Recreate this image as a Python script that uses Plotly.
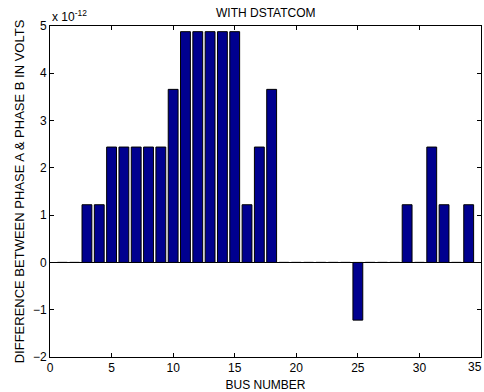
import plotly.graph_objects as go

bus = list(range(1, 35))
diff = [0, 0, 1.22, 1.22, 2.44, 2.44, 2.44, 2.44, 2.44, 3.66,
        4.88, 4.88, 4.88, 4.88, 4.88, 1.22, 2.44, 3.66, 0, 0,
        0, 0, 0, 0, -1.22, 0, 0, 0, 1.22, 0,
        2.44, 1.22, 0, 1.22]
xticks = [0, 5, 10, 15, 20, 25, 30, 35]
yticks = [-2, -1, 0, 1, 2, 3, 4, 5]

font = "Liberation Sans, Arial, sans-serif"

fig = go.Figure(go.Bar(
    x=bus, y=diff,
    marker=dict(color="#00008F", line=dict(color="black", width=1)),
    width=0.8,
))

fig.update_layout(
    width=484, height=392,
    margin=dict(l=50, r=3, t=26, b=35),
    plot_bgcolor="white", paper_bgcolor="white",
    showlegend=False,
    font=dict(family=font, size=12, color="black"),
)
fig.update_xaxes(
    range=[0, 35], tickvals=xticks, ticks="inside", ticklen=4, tickcolor="black",
    showline=True, linecolor="black", linewidth=1, mirror="ticks", showgrid=False, zeroline=False,
    tickfont=dict(size=12),
    title=dict(text="BUS NUMBER", standoff=6, font=dict(size=12)),
)
fig.update_yaxes(
    range=[-2, 5], tickvals=yticks, ticks="inside", ticklen=4, tickcolor="black",
    showline=True, linecolor="black", linewidth=1, mirror="ticks", showgrid=False,
    zeroline=True, zerolinecolor="black", zerolinewidth=1,
    tickfont=dict(size=12),
    title=dict(text="DIFFERENCE BETWEEN PHASE A &amp; PHASE B IN VOLTS", standoff=5, font=dict(size=13)),
)
fig.add_annotation(
    x=0.5, y=1, xref="paper", yref="paper", xanchor="center", yanchor="bottom",
    text="WITH DSTATCOM", showarrow=False, font=dict(size=12, family=font), yshift=4,
)
fig.add_annotation(
    x=0, y=1, xref="paper", yref="paper", xanchor="left", yanchor="bottom",
    text="x 10<sup>-12</sup>", showarrow=False, font=dict(size=12, family=font), yshift=0,
)
fig.add_annotation(
    x=35, y=0, xref="x", yref="paper", xanchor="right", yanchor="top",
    text="35", showarrow=False, font=dict(size=12, family=font), yshift=-1, xshift=3,
)

fig.write_html("out.html")
